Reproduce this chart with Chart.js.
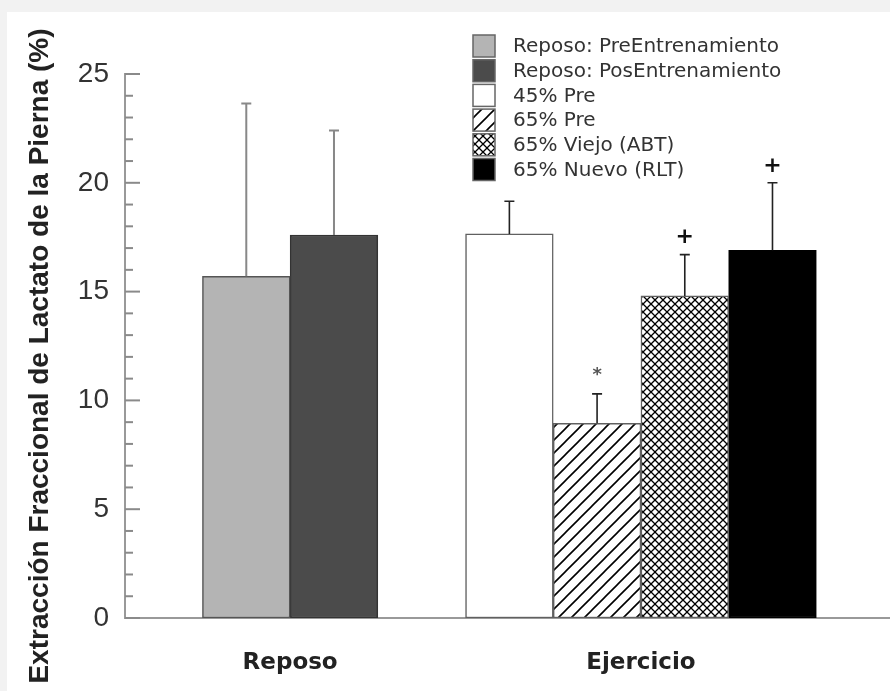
<!DOCTYPE html>
<html>
<head>
<meta charset="utf-8">
<script src="https://cdn.jsdelivr.net/npm/chart.js@4.4.1/dist/chart.umd.min.js"></script>
<style>
  html, body { margin: 0; padding: 0; background: #f2f2f2; }
  #wrap { position: absolute; left: 7px; top: 12px; width: 883px; height: 679px; background: #fff; }
</style>
</head>
<body>
<div id="wrap"><canvas id="chart" width="883" height="679"></canvas></div>
<script>
const groups = ['Reposo', 'Ejercicio'];
const seriesNames = ['Reposo: PreEntrenamiento', 'Reposo: PosEntrenamiento', '45% Pre', '65% Pre', '65% Viejo (ABT)', '65% Nuevo (RLT)'];
const seriesGroup = [0, 0, 1, 1, 1, 1];
const means = [15.7, 17.6, 17.65, 8.95, 14.8, 16.9];
const errorTops = [23.65, 22.4, 19.15, 10.3, 16.7, 20.0];
const marks = ['', '', '', '*', '+', '+'];
const yTitle = 'Extracción Fraccional de Lactato de la Pierna (%)';

// bars of a group sit side by side, one empty slot between groups
const slots = [];
let slot = 1;
seriesGroup.forEach((g, i) => {
    if (i > 0 && g !== seriesGroup[i - 1]) slot += 1;
    slots.push(slot);
    slot += 1;
});
const groupCenters = groups.map((_, g) => {
    const s = slots.filter((_, i) => seriesGroup[i] === g);
    return (s[0] + s[s.length - 1]) / 2;
});

function hatch(size, draw) {
    const c = document.createElement('canvas');
    c.width = c.height = size;
    const x = c.getContext('2d');
    x.fillStyle = '#fff';
    x.fillRect(0, 0, size, size);
    x.strokeStyle = '#000';
    draw(x, size);
    return x.createPattern(c, 'repeat');
}

const diagonal = hatch(13, (x, s) => {
    x.lineWidth = 1.6;
    x.beginPath();
    x.moveTo(-2, s + 2); x.lineTo(s + 2, -2);
    x.moveTo(-2, 2); x.lineTo(2, -2);
    x.moveTo(s - 2, s + 2); x.lineTo(s + 2, s - 2);
    x.stroke();
});
const crossed = hatch(8, (x, s) => {
    x.lineWidth = 1.3;
    x.beginPath();
    x.moveTo(0, 0); x.lineTo(s, s);
    x.moveTo(0, s); x.lineTo(s, 0);
    x.stroke();
});

const fills = ['#b4b4b4', '#4b4b4b', '#ffffff', diagonal, crossed, '#000000'];
const borders = ['#555555', '#333333', '#606060', '#606060', '#606060', '#000000'];
const errColors = ['#888888', '#888888', '#222222', '#222222', '#222222', '#222222'];

// barras de error, marcas, ticks internos del eje y, titulo y leyenda
const overlay = {
    id: 'overlay',
    afterDatasetsDraw(chart) {
        const { ctx, chartArea, scales: { y } } = chart;
        ctx.save();
        ctx.strokeStyle = '#8a8a8a';
        ctx.lineWidth = 2;
        for (let v = y.min; v <= y.max; v++) {
            const py = y.getPixelForValue(v);
            ctx.beginPath();
            ctx.moveTo(chartArea.left, py);
            ctx.lineTo(chartArea.left + (v % 5 === 0 ? 15 : 8), py);
            ctx.stroke();
        }

        chart.data.datasets.forEach((ds, i) => {
            const bar = chart.getDatasetMeta(i).data[0];
            const top = y.getPixelForValue(errorTops[i]);
            ctx.strokeStyle = errColors[i];
            ctx.lineWidth = i < 2 ? 2 : 1.6;
            ctx.beginPath();
            ctx.moveTo(bar.x, bar.y);
            ctx.lineTo(bar.x, top);
            ctx.moveTo(bar.x - 5, top);
            ctx.lineTo(bar.x + 5, top);
            ctx.stroke();
            if (marks[i]) {
                ctx.textAlign = 'center';
                ctx.textBaseline = 'middle';
                if (marks[i] === '*') {
                    ctx.fillStyle = '#555';
                    ctx.font = 'bold 18px "DejaVu Sans"';
                    ctx.fillText(marks[i], bar.x, top - 19);
                } else {
                    ctx.fillStyle = '#111';
                    ctx.font = 'bold 22px "DejaVu Sans"';
                    ctx.fillText(marks[i], bar.x, top - 17);
                }
            }
        });

        ctx.translate(33, (chartArea.top + chartArea.bottom) / 2 + 10);
        ctx.rotate(-Math.PI / 2);
        ctx.fillStyle = '#222';
        ctx.font = 'bold 28px "Liberation Sans"';
        ctx.textAlign = 'center';
        ctx.textBaseline = 'middle';
        ctx.fillText(yTitle, 0, 0);
        ctx.restore();
    },
    afterDraw(chart) {
        const ctx = chart.ctx;
        const lx = 466, ly = 23, pitch = 24.7, bw = 22, bh = 22;
        ctx.save();
        chart.data.datasets.forEach((ds, i) => {
            const top = ly + i * pitch;
            ctx.fillStyle = ds.backgroundColor;
            ctx.fillRect(lx, top, bw, bh);
            ctx.strokeStyle = '#666';
            ctx.lineWidth = 1.5;
            ctx.strokeRect(lx, top, bw, bh);
            ctx.fillStyle = '#333';
            ctx.font = '20px "DejaVu Sans"';
            ctx.textAlign = 'left';
            ctx.textBaseline = 'middle';
            ctx.fillText(ds.label, lx + 40, top + bh / 2 + 1);
        });
        ctx.restore();
    }
};

new Chart(document.getElementById('chart'), {
    type: 'bar',
    data: {
        datasets: seriesNames.map((name, i) => ({
            label: name,
            data: [{ x: slots[i], y: means[i] }],
            backgroundColor: fills[i],
            borderColor: borders[i],
            borderWidth: 1.5,
            borderSkipped: false,
            grouped: false,
            categoryPercentage: 1,
            barPercentage: 1
        }))
    },
    options: {
        responsive: false,
        animation: false,
        devicePixelRatio: 1,
        layout: { padding: { top: 62, right: 0, bottom: 0, left: 0 } },
        plugins: {
            legend: { display: false },
            tooltip: { enabled: false }
        },
        scales: {
            x: {
                type: 'linear',
                offset: false,
                min: -0.383,
                max: 8.34,
                grid: { display: false, drawTicks: false, offset: false },
                border: { color: '#999', width: 2 },
                afterBuildTicks: scale => {
                    scale.ticks = groupCenters.map(v => ({ value: v }));
                },
                afterFit: scale => { scale.height = 73; },
                ticks: {
                    callback: (v, i) => groups[i],
                    autoSkip: false,
                    maxRotation: 0,
                    padding: 31,
                    color: '#222',
                    font: { family: 'DejaVu Sans', size: 23, weight: 'bold' }
                }
            },
            y: {
                min: 0,
                max: 25,
                grid: { display: false, drawTicks: false },
                border: { color: '#999', width: 2 },
                afterFit: scale => { scale.width = 118; },
                ticks: {
                    stepSize: 5,
                    padding: 16,
                    color: '#333',
                    font: { family: 'Liberation Sans', size: 28 }
                }
            }
        }
    },
    plugins: [overlay]
});
</script>
</body>
</html>
